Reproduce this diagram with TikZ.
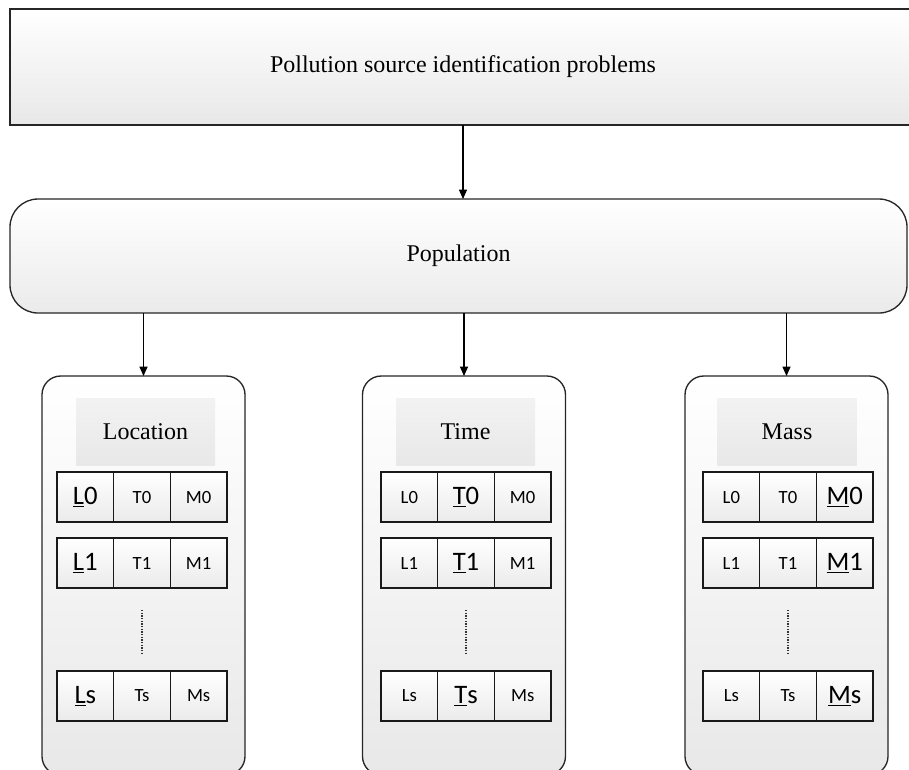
\documentclass[tikz,border=0pt]{standalone}
\usepackage{fontspec}
\setmainfont{Liberation Serif}
\newfontfamily\cellfont{Carlito}
\usetikzlibrary{arrows.meta}
\usetikzlibrary{positioning}

\newcommand{\keycell}[2]{{\fontsize{20}{22}\selectfont\underline{#1}#2}}

\begin{document}
\begin{tikzpicture}[x=0.75pt,y=-0.75pt]
\useasboundingbox (0,0) rectangle (909,769);
\clip (0,0) rectangle (909,769);
\begin{scope}[every node/.style={draw=black!85,line width=1pt,outer sep=0pt,font=\fontsize{18}{20}\selectfont},
              panel/.style={rounded corners=14pt,top color=white,bottom color=black!9,
                            minimum width=152.25pt,minimum height=299.25pt},
              head/.style={draw=none,top color=black!5,bottom color=black!9,
                           minimum width=104.25pt,minimum height=50.25pt}]
    \node[line width=1.3pt,top color=white,bottom color=black!9,
          minimum width=679.5pt,minimum height=87pt] (prob) at (463,67) {Pollution source identification problems};
    \node[rounded corners=21pt,top color=white,bottom color=black!8,
          minimum width=672.75pt,minimum height=85.5pt] (pop) at (458.5,256) {Population};
    \node[panel] (loc) at (143.5,575.5) {};
    \node[panel] (time) at (464,575.5) {};
    \node[panel] (mass) at (786.5,575.5) {};
    \node[head] (locH) at (145.5,431.5) {Location};
    \node[head] (timeH) at (465.5,431.5) {Time};
    \node[head] (massH) at (787,431.5) {Mass};
\end{scope}
\begin{scope}[every node/.style={draw=black!90,line width=0.9pt,outer sep=0pt,inner sep=0pt,
                                 minimum width=42.5pt,minimum height=37.5pt,
                                 top color=white,bottom color=black!8,
                                 font=\cellfont\fontsize{14}{16}\selectfont}]
    % location
    \node (l-T0) at (142,497) {T0};
    \node[left=0pt of l-T0] (l-L0) {\keycell{L}{0}};
    \node[right=0pt of l-T0] (l-M0) {M0};
    \node (l-T1) at (142,563) {T1};
    \node[left=0pt of l-T1] (l-L1) {\keycell{L}{1}};
    \node[right=0pt of l-T1] (l-M1) {M1};
    \node (l-Ts) at (142,696) {Ts};
    \node[left=0pt of l-Ts] (l-Ls) {\keycell{L}{s}};
    \node[right=0pt of l-Ts] (l-Ms) {Ms};
    % time
    \node (t-T0) at (466,497) {\keycell{T}{0}};
    \node[left=0pt of t-T0] (t-L0) {L0};
    \node[right=0pt of t-T0] (t-M0) {M0};
    \node (t-T1) at (466,563) {\keycell{T}{1}};
    \node[left=0pt of t-T1] (t-L1) {L1};
    \node[right=0pt of t-T1] (t-M1) {M1};
    \node (t-Ts) at (466,696) {\keycell{T}{s}};
    \node[left=0pt of t-Ts] (t-Ls) {Ls};
    \node[right=0pt of t-Ts] (t-Ms) {Ms};
    % mass
    \node (m-T0) at (788,497) {T0};
    \node[left=0pt of m-T0] (m-L0) {L0};
    \node[right=0pt of m-T0] (m-M0) {\keycell{M}{0}};
    \node (m-T1) at (788,563) {T1};
    \node[left=0pt of m-T1] (m-L1) {L1};
    \node[right=0pt of m-T1] (m-M1) {\keycell{M}{1}};
    \node (m-Ts) at (788,696) {Ts};
    \node[left=0pt of m-Ts] (m-Ls) {Ls};
    \node[right=0pt of m-Ts] (m-Ms) {\keycell{M}{s}};
\end{scope}
\begin{scope}[>={Triangle[length=7pt,width=6pt]},
              arrow_edge/.style={draw=black,line width=0.8pt},
              dot_edge/.style={draw=black!80,line width=1pt,dash pattern=on 1.1pt off 0.9pt,
                               shorten <=16.5pt,shorten >=13.5pt}]
    \path [->] (prob) edge [arrow_edge] (prob.south |- pop.north);
    \path [->] (loc.north |- pop.south) edge [arrow_edge] (loc.north);
    \path [->] (time.north |- pop.south) edge [arrow_edge] (time.north);
    \path [->] (mass.north |- pop.south) edge [arrow_edge] (mass.north);
    \path (l-T1) edge [dot_edge] (l-Ts);
    \path (t-T1) edge [dot_edge] (t-Ts);
    \path (m-T1) edge [dot_edge] (m-Ts);
\end{scope}
\end{tikzpicture}
\end{document}
